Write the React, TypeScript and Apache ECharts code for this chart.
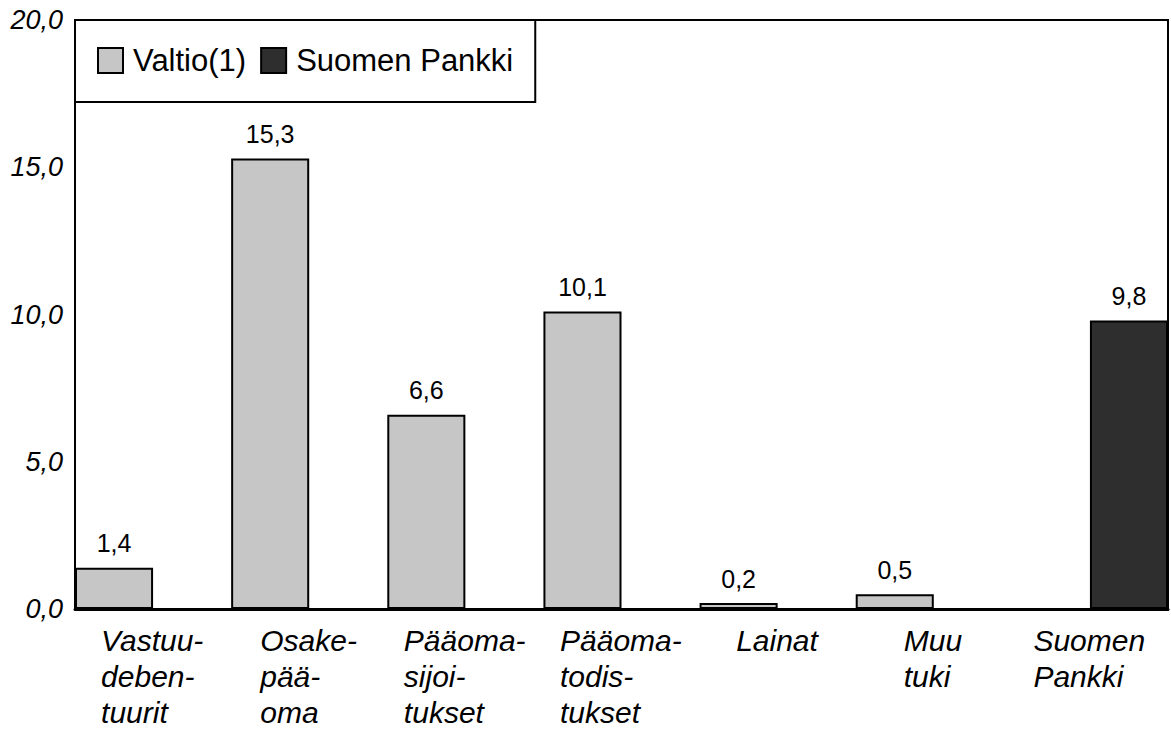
import React, { useEffect, useRef } from "react";
import * as echarts from "echarts";

const categories = [
  "Vastuu-\ndeben-\ntuurit",
  "Osake-\npää-\noma",
  "Pääoma-\nsijoi-\ntukset",
  "Pääoma-\ntodis-\ntukset",
  "Lainat",
  "Muu\ntuki",
  "Suomen\nPankki",
];
const valtio: (number | string)[] = [1.4, 15.3, 6.6, 10.1, 0.2, 0.5, "-"];
const suomenPankki: (number | string)[] = ["-", "-", "-", "-", "-", "-", 9.8];
const yTicks = [0, 5, 10, 15, 20];

const FONT = "'Liberation Sans', Arial, Helvetica, sans-serif";
const X_FONT_SIZE = 30;
const fmt = (v: number) => v.toFixed(1).replace(".", ",");

function measure(text: string, font: string): number {
  const c = document.createElement("canvas").getContext("2d");
  if (!c) return text.length * 15;
  c.font = font;
  return c.measureText(text).width;
}

export default function App() {
  const ref = useRef<HTMLDivElement>(null);
  useEffect(() => {
    if (!ref.current) return;
    const chart = echarts.init(ref.current, undefined, { renderer: "svg" });

    // each label block is centred on its category, lines left-aligned within it
    const rich: Record<string, any> = {};
    categories.forEach((cat, i) => {
      const w = Math.max(
        ...cat
          .split("\n")
          .map((l) => measure(l, `italic ${X_FONT_SIZE}px 'Liberation Sans'`))
      );
      rich["c" + i] = {
        width: Math.ceil(w) + 1,
        align: "left",
        fontSize: X_FONT_SIZE,
        fontStyle: "italic",
        fontFamily: FONT,
        color: "#000",
        lineHeight: 36,
      };
    });

    const labelCfg = {
      show: true,
      position: "top" as const,
      distance: 12,
      color: "#000",
      fontSize: 25,
      fontFamily: FONT,
      formatter: (p: any) => fmt(p.value as number),
    };
    chart.setOption({
      animation: false,
      backgroundColor: "#fff",
      textStyle: { fontFamily: FONT },
      grid: {
        left: 75,
        right: 3,
        top: 20,
        bottom: 122,
        show: true,
        borderColor: "#000",
        borderWidth: 2,
        backgroundColor: "transparent",
      },
      legend: {
        left: 75,
        top: 20,
        orient: "horizontal",
        padding: [25, 22, 26, 22],
        borderColor: "#000",
        borderWidth: 2,
        backgroundColor: "#fff",
        itemWidth: 25,
        itemHeight: 25,
        itemGap: 14,
        textStyle: {
          fontSize: 31,
          color: "#000",
          fontFamily: FONT,
          padding: [0, 0, 0, 5],
        },
        data: [
          { name: "Valtio(1)", icon: "rect" },
          { name: "Suomen Pankki", icon: "rect" },
        ],
      },
      xAxis: {
        type: "category",
        data: categories,
        boundaryGap: true,
        axisLine: { show: true, lineStyle: { color: "#000", width: 3 } },
        axisTick: { show: false },
        splitLine: { show: false },
        axisLabel: {
          interval: 0,
          margin: 13,
          fontSize: X_FONT_SIZE,
          fontStyle: "italic",
          formatter: (v: string, idx: number) =>
            v
              .split("\n")
              .map((l) => `{c${idx}|${l}}`)
              .join("\n"),
          rich,
        },
      },
      yAxis: {
        type: "value",
        min: 0,
        max: 20,
        interval: 5,
        axisLine: { show: false },
        axisTick: { show: false },
        splitLine: { show: false },
        axisLabel: {
          margin: 12,
          fontSize: 27,
          fontStyle: "italic",
          fontFamily: FONT,
          color: "#000",
          formatter: (v: number) => (yTicks.includes(v) ? fmt(v) : ""),
        },
      },
      series: [
        {
          name: "Valtio(1)",
          type: "bar",
          data: valtio,
          barGap: "0%",
          barCategoryGap: "0%",
          itemStyle: { color: "#c6c6c6", borderColor: "#000", borderWidth: 2 },
          label: labelCfg,
        },
        {
          name: "Suomen Pankki",
          type: "bar",
          data: suomenPankki,
          barGap: "0%",
          barCategoryGap: "0%",
          itemStyle: { color: "#2e2e2e", borderColor: "#000", borderWidth: 2 },
          label: labelCfg,
        },
      ],
    });
    return () => chart.dispose();
  }, []);
  return (
    <div
      ref={ref}
      style={{ position: "absolute", left: 0, top: 0, width: 1171, height: 731 }}
    />
  );
}
